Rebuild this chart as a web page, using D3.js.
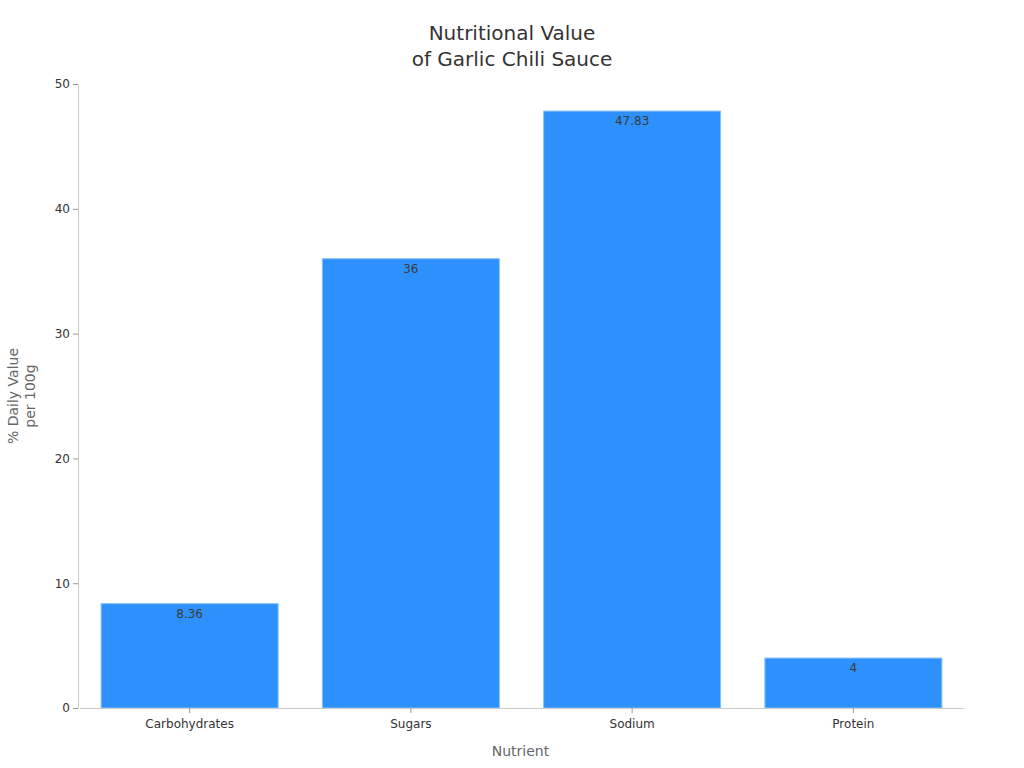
<!DOCTYPE html>
<html>
<head>
<meta charset="utf-8">
<script src="https://cdn.jsdelivr.net/npm/d3@7"></script>
<style>
  body { margin: 0; background: #fff; }
  svg { font-family: "DejaVu Sans", sans-serif; }
</style>
</head>
<body>
<svg id="chart" width="1024" height="768"></svg>
<script>
"use strict";

// chart data
var nutrients = ["Carbohydrates", "Sugars", "Sodium", "Protein"]
var dailyValues = [8.36, 36, 47.83, 4]
var yTicks = [0, 10, 20, 30, 40, 50]

var svg = d3.select("#chart")
var margin = { top: 84, right: 61, bottom: 60, left: 78 }
var width = 1024 - margin.left - margin.right
var height = 708 - margin.top

var x = d3.scaleBand()
  .domain(nutrients)
  .range([1, width + 1])
  .paddingInner(0.2)
  .paddingOuter(0.1)

var y = d3.scaleLinear()
  .domain([0, 50])
  .range([height, 0])

var g = svg.append("g")
  .attr("transform", "translate(" + margin.left + "," + margin.top + ")")

// title
var title = svg.append("text")
  .attr("text-anchor", "middle")
  .attr("font-size", 20)
  .attr("fill", "#333")
title.append("tspan").attr("x", 512).attr("y", 40).text("Nutritional Value")
title.append("tspan").attr("x", 512).attr("y", 66).text("of Garlic Chili Sauce")

// bars
g.selectAll("rect.bar")
  .data(dailyValues)
  .enter()
  .append("rect")
    .attr("class", "bar")
    .attr("x", function(d, i) { return x(nutrients[i]) })
    .attr("y", function(d) { return y(d) })
    .attr("width", x.bandwidth())
    .attr("height", function(d) { return height - y(d) })
    .attr("fill", "#2E90FA")
    .attr("stroke", "#84C0FB")
    .attr("stroke-width", 1)

g.selectAll("text.value")
  .data(dailyValues)
  .enter()
  .append("text")
    .attr("class", "value")
    .attr("x", function(d, i) { return x(nutrients[i]) + x.bandwidth() / 2 })
    .attr("y", function(d) { return y(d) + 14 })
    .attr("text-anchor", "middle")
    .attr("font-size", 12)
    .attr("fill", "#3a3a3a")
    .text(function(d) { return d })

// axes
var yAxis = g.append("g")
  .call(d3.axisLeft(y).tickValues(yTicks).tickSize(5).tickSizeOuter(0))
yAxis.select(".domain").attr("stroke", "#ccc")
yAxis.selectAll(".tick line").attr("stroke", "#999")
yAxis.selectAll(".tick text").attr("font-size", 12).attr("fill", "#333")
  .attr("font-family", "DejaVu Sans, sans-serif")

var xAxis = g.append("g")
  .attr("transform", "translate(0," + height + ")")
  .call(d3.axisBottom(x).tickSize(5).tickPadding(6).tickSizeOuter(0))
xAxis.select(".domain").attr("stroke", "#ccc")
xAxis.selectAll(".tick line").attr("stroke", "#999")
xAxis.selectAll(".tick text").attr("font-size", 12).attr("fill", "#333")
  .attr("font-family", "DejaVu Sans, sans-serif")

// axis titles
svg.append("text")
  .attr("x", margin.left + width / 2)
  .attr("y", 756)
  .attr("text-anchor", "middle")
  .attr("font-size", 14)
  .attr("fill", "#666")
  .text("Nutrient")

var yTitle = svg.append("text")
  .attr("transform", "translate(18," + (margin.top + height / 2) + ") rotate(-90)")
  .attr("text-anchor", "middle")
  .attr("font-size", 14)
  .attr("fill", "#666")
yTitle.append("tspan").attr("x", 0).attr("y", 0).text("% Daily Value")
yTitle.append("tspan").attr("x", 0).attr("y", 17).text("per 100g")
</script>
</body>
</html>
